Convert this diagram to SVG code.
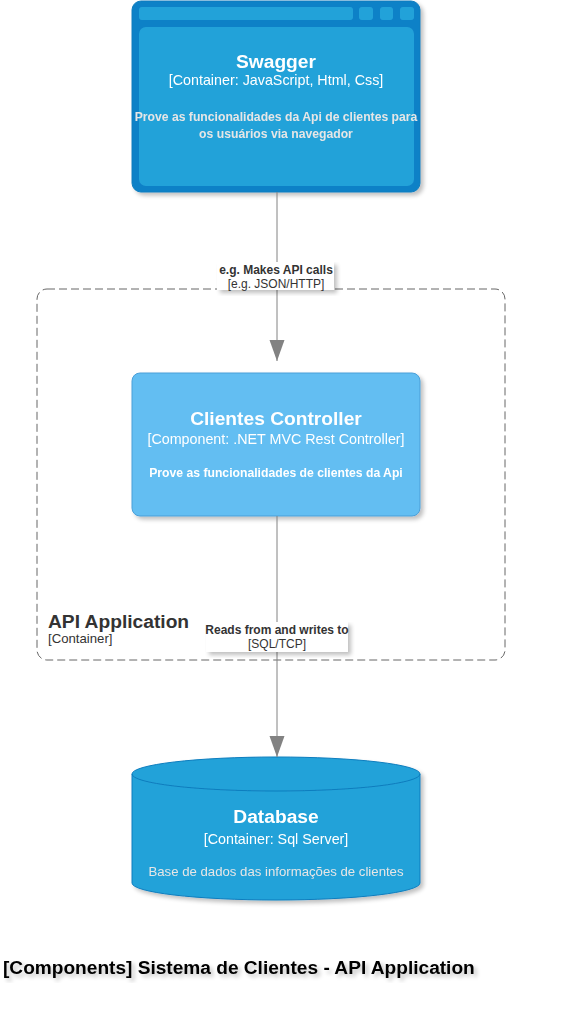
<svg xmlns="http://www.w3.org/2000/svg" width="566" height="1011" viewBox="0 0 566 1011">
<style>
text{font-family:"Liberation Sans",Arial,Helvetica,sans-serif}
.t{font-weight:bold;font-size:19.2px;fill:#fff;text-anchor:middle}
.s{font-size:14.3px;fill:#fff;text-anchor:middle}
.d{font-size:12.2px;font-weight:bold;fill:#e6e6e6;text-anchor:middle}
.ll{font-size:12px;fill:#333;text-anchor:middle}
.lb{font-size:12px;font-weight:bold;fill:#333;text-anchor:middle}
.edge{stroke:#828282;stroke-width:1;fill:none}
</style>
<defs>
<filter id="sh" x="-10%" y="-10%" width="130%" height="130%">
<feGaussianBlur in="SourceAlpha" stdDeviation="2"/>
<feOffset dx="3" dy="3" result="b"/>
<feComponentTransfer><feFuncA type="linear" slope="0.25"/></feComponentTransfer>
<feMerge><feMergeNode/><feMergeNode in="SourceGraphic"/></feMerge>
</filter>
<marker id="arr" markerWidth="21" markerHeight="16" refX="21" refY="7.5" orient="auto" markerUnits="userSpaceOnUse" viewBox="0 0 21 15">
<path d="M0,0 L21,7.5 L0,15 Z" fill="#828282"/>
</marker>
</defs>
<rect width="566" height="1011" fill="#fff"/>
<g id="boundary">
<rect x="37" y="289" width="468" height="371" rx="10" fill="none" stroke="#666" stroke-width="1" stroke-dasharray="8 4"/>
<text x="48" y="628" style="font-size:19.2px;font-weight:bold;fill:#333">API Application</text>
<text x="48" y="643" style="font-size:13.2px;fill:#333">[Container]</text>
</g>
<g id="swagger" filter="url(#sh)">
<rect x="132" y="1" width="288" height="191" rx="9" fill="#1081C7" stroke="#0E7DBE"/>
<rect x="139" y="7" width="214" height="13" rx="3" fill="#23A2D9"/>
<rect x="359" y="7" width="14" height="13" rx="3" fill="#23A2D9"/>
<rect x="380" y="7" width="13" height="13" rx="3" fill="#23A2D9"/>
<rect x="400" y="7" width="14" height="13" rx="3" fill="#23A2D9"/>
<rect x="139" y="27" width="275" height="159" rx="7" fill="#23A2D9"/>
<text class="t" x="276" y="68">Swagger</text>
<text class="s" x="276" y="85">[Container: JavaScript, Html, Css]</text>
<text class="d" x="276" y="121">Prove as funcionalidades da Api de clientes para</text>
<text class="d" x="276" y="138">os usuários via navegador</text>
</g>
<g id="controller" filter="url(#sh)">
<rect x="132" y="373" width="288" height="143" rx="8" fill="#63BEF2" stroke="#4A9FD8"/>
<text class="t" x="276" y="425">Clientes Controller</text>
<text class="s" x="276" y="444">[Component: .NET MVC Rest Controller]</text>
<text class="d" x="276" y="477" style="fill:#fff">Prove as funcionalidades de clientes da Api</text>
</g>
<g id="database" filter="url(#sh)">
<path d="M132,774 A144,17 0 0 1 420,774 L420,883 A144,17 0 0 1 132,883 Z" fill="#23A2D9" stroke="#0E7DBE"/>
<path d="M132,774 A144,17 0 0 0 420,774" fill="none" stroke="#0E7DBE"/>
<text class="t" x="276" y="823">Database</text>
<text class="s" x="276" y="844">[Container: Sql Server]</text>
<text x="276" y="876" style="font-size:13.2px;fill:#e6e6e6;text-anchor:middle">Base de dados das informações de clientes</text>
</g>
<g id="connectors">
<path class="edge" d="M277,192 L277,361" marker-end="url(#arr)"/>
<rect x="217" y="262" width="117" height="28" fill="#fff" filter="url(#sh)"/>
<text class="lb" x="276" y="274">e.g. Makes API calls</text>
<text class="ll" x="276" y="288">[e.g. JSON/HTTP]</text>
<path class="edge" d="M277,516 L277,757" marker-end="url(#arr)"/>
<rect x="206" y="622" width="142" height="30" fill="#fff" filter="url(#sh)"/>
<text class="lb" x="277" y="634">Reads from and writes to</text>
<text class="ll" x="277" y="648">[SQL/TCP]</text>
</g>
<g id="title">
<text x="3" y="974" filter="url(#sh)" style="font-size:19.1px;font-weight:bold;fill:#000">[Components] Sistema de Clientes - API Application</text>
</g>
</svg>
